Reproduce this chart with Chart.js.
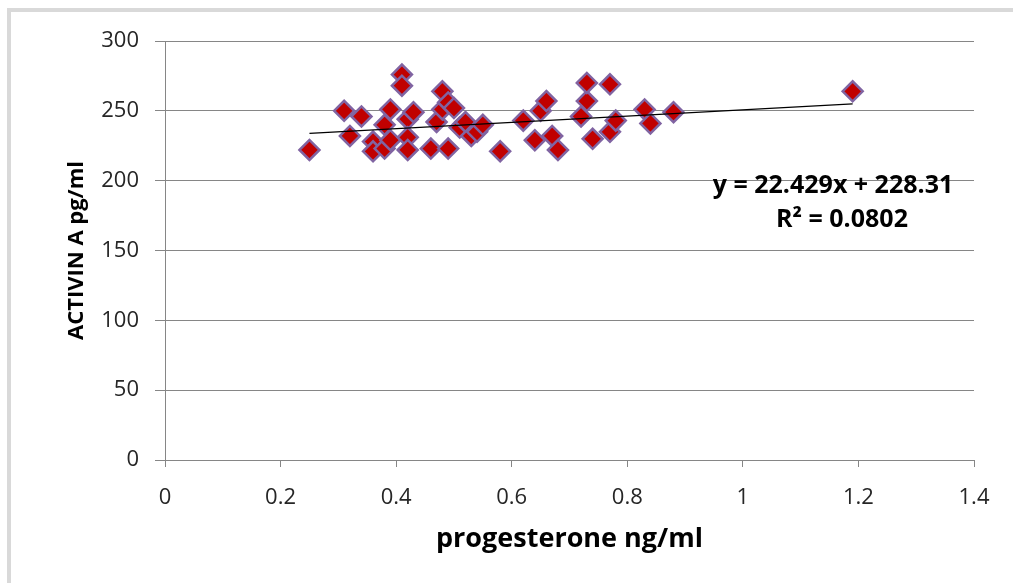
<!DOCTYPE html>
<html>
<head>
<meta charset="utf-8">
<script src="https://cdn.jsdelivr.net/npm/chart.js@4.4.1/dist/chart.umd.min.js"></script>
<style>
  html, body { margin: 0; padding: 0; background: #fff; }
  #wrap { position: relative; width: 1013px; height: 583px; overflow: hidden; }
  #frame { position: absolute; left: 7px; top: 8px; right: -10px; bottom: -10px;
           border-left: 4px solid #d9d9d9; border-top: 4px solid #d9d9d9; }
  #chart { position: absolute; left: 0; top: 0; }
</style>
</head>
<body>
<div id="wrap">
  <div id="frame"></div>
  <canvas id="chart" width="1013" height="583"></canvas>
</div>
<script>
// progesterone (ng/ml) vs activin A (pg/ml), one entry per sample
const progesterone = [
  0.25, 0.31, 0.32, 0.34, 0.36, 0.36, 0.38, 0.38, 0.39, 0.39,
  0.41, 0.41, 0.42, 0.42, 0.42, 0.43, 0.46, 0.47, 0.48, 0.48,
  0.49, 0.49, 0.50, 0.51, 0.52, 0.53, 0.54, 0.55, 0.58, 0.62,
  0.64, 0.65, 0.66, 0.67, 0.68, 0.72, 0.73, 0.73, 0.74, 0.77,
  0.77, 0.78, 0.83, 0.84, 0.88, 1.19
];
const activinA = [
  222, 250, 232, 246, 228, 221, 240, 223, 251, 229,
  276, 268, 244, 231, 222, 249, 223, 242, 264, 251,
  256, 223, 252, 238, 242, 232, 235, 240, 221, 243,
  229, 250, 257, 232, 222, 246, 257, 270, 230, 235,
  269, 243, 251, 241, 249, 264
];

// linear fit shown on the chart
const trendSlope = 22.429;
const trendIntercept = 228.31;
const trendR2 = 0.0802;

const xMin = 0, xMax = 1.4, xStep = 0.2;
const yMin = 0, yMax = 300, yStep = 50;

const points = progesterone.map((x, i) => ({ x: x, y: activinA[i] }));
const fitFrom = Math.min(...progesterone), fitTo = Math.max(...progesterone);
const trend = [fitFrom, fitTo].map(x => ({ x: x, y: trendSlope * x + trendIntercept }));

const gridGray = '#868686';
const tickFont = { family: "'Open Sans', sans-serif", size: 22 };

// equation + R² text drawn inside the plot
const fitLabel = {
  id: 'fitLabel',
  afterDatasetsDraw(chart) {
    const ctx = chart.ctx;
    ctx.save();
    ctx.fillStyle = '#000';
    ctx.font = "bold 25px 'Open Sans', sans-serif";
    ctx.textAlign = 'center';
    ctx.textBaseline = 'middle';
    ctx.fillText(`y = ${trendSlope}x + ${trendIntercept}`, 833, 186);
    ctx.fillText(`R\u00B2 = ${trendR2}`, 842, 220);
    ctx.restore();
  }
};

new Chart(document.getElementById('chart'), {
  type: 'scatter',
  data: {
    datasets: [
      {
        label: 'ACTIVIN A',
        data: points,
        order: 2,
        pointStyle: 'rectRot',
        pointRadius: 10,
        pointHoverRadius: 10,
        backgroundColor: '#c00000',
        borderColor: '#8064a2',
        borderWidth: 2.5
      },
      {
        type: 'line',
        label: 'Linear',
        data: trend,
        order: 1,
        borderColor: '#000',
        borderWidth: 1.3,
        pointRadius: 0,
        fill: false
      }
    ]
  },
  options: {
    responsive: false,
    animation: false,
    layout: { padding: { top: 41, right: 39, left: 0, bottom: 0 } },
    plugins: { legend: { display: false }, tooltip: { enabled: false } },
    scales: {
      x: {
        type: 'linear',
        min: xMin, max: xMax,
        ticks: {
          stepSize: xStep,
          color: '#262626',
          font: tickFont,
          padding: 18,
          maxRotation: 0,
          callback: v => String(+v.toFixed(1))
        },
        grid: { drawOnChartArea: false, drawTicks: true, tickLength: 7, color: gridGray },
        border: { display: true, color: gridGray },
        title: {
          display: true,
          text: 'progesterone ng/ml',
          color: '#000',
          font: { family: "'Open Sans', sans-serif", size: 27, weight: 'bold' },
          padding: { top: 0, bottom: 27 }
        },
        afterFit: s => { s.height = 123; }
      },
      y: {
        min: yMin, max: yMax,
        ticks: { stepSize: yStep, color: '#262626', font: tickFont, padding: 16 },
        grid: { color: gridGray, tickLength: 10 },
        border: { display: true, color: gridGray },
        title: {
          display: true,
          text: 'ACTIVIN A pg/ml',
          color: '#000',
          font: { family: "'Open Sans', sans-serif", size: 22, weight: 'bold' },
          padding: { top: 64, bottom: 0 }
        },
        afterFit: s => { s.width = 165; }
      }
    }
  },
  plugins: [fitLabel]
});
</script>
</body>
</html>
